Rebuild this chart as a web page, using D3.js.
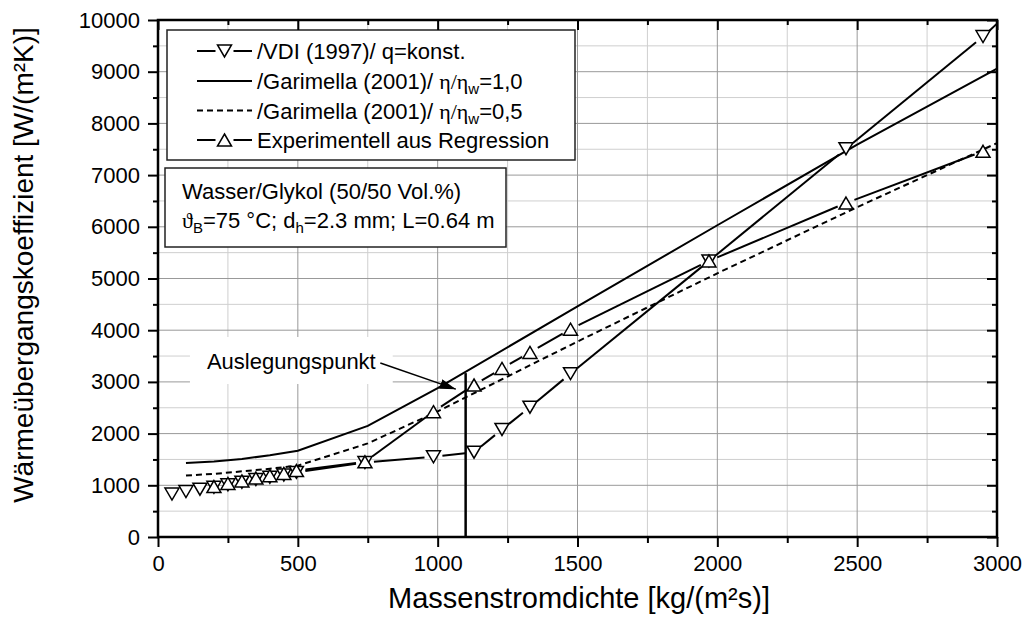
<!DOCTYPE html>
<html>
<head>
<meta charset="utf-8">
<script src="https://cdn.jsdelivr.net/npm/d3@7"></script>
<style>
  body { margin: 0; background: #fff; }
  text { font-family: "Liberation Sans", Arial, Helvetica, sans-serif; fill: #000; }
  .greek { font-family: "Liberation Serif", "Times New Roman", serif; }
</style>
</head>
<body>
<svg id="chart" width="1022" height="621"></svg>
<script>
// Wärmeübergangskoeffizient über Massenstromdichte, Wasser/Glykol 50/50

// /VDI (1997)/ q=konst.  (Dreieck nach unten)
const vdiX = [50, 100, 150, 200, 250, 300, 350, 400, 450, 495, 740, 985, 1130, 1230, 1330, 1475, 1970, 2460, 2950];
const vdiY = [830, 880, 925, 960, 1010, 1060, 1110, 1155, 1200, 1250, 1440, 1550, 1640, 2080, 2510, 3160, 5340, 7510, 9680];
// Linienende am Diagrammrand
const vdiEnd = [3000, 9930];

// Experimentell aus Regression (Dreieck nach oben)
const expX = [200, 250, 300, 350, 400, 450, 495, 740, 985, 1130, 1230, 1330, 1475, 1970, 2460, 2950];
const expY = [975, 1035, 1085, 1140, 1185, 1230, 1285, 1455, 2425, 2940, 3260, 3570, 4020, 5340, 6460, 7460];

// /Garimella (2001)/ eta/eta_w = 1,0
const gar10X = [100, 200, 300, 400, 500, 750, 1000, 1500, 2000, 2500, 3000];
const gar10Y = [1430, 1460, 1510, 1580, 1670, 2150, 2880, 4460, 6030, 7590, 9060];

// /Garimella (2001)/ eta/eta_w = 0,5
const gar05X = [100, 200, 300, 400, 500, 750, 1000, 1500, 2000, 2500, 3000];
const gar05Y = [1190, 1220, 1270, 1320, 1380, 1810, 2430, 3780, 5100, 6380, 7620];

// Auslegungspunkt
const designX = 1100;
const designY = 3170;
const arrowFrom = [795, 3365];
const arrowTo = [1065, 2860];

// Achsen
const xMajor = [0, 500, 1000, 1500, 2000, 2500, 3000];
const xMinor = [250, 750, 1250, 1750, 2250, 2750];
const yMajor = [0, 1000, 2000, 3000, 4000, 5000, 6000, 7000, 8000, 9000, 10000];
const yMinor = [500, 1500, 2500, 3500, 4500, 5500, 6500, 7500, 8500, 9500];

const svg = d3.select("#chart");
const L = 158, R = 997, T = 20, B = 537;
const x = d3.scaleLinear().domain([0, 3000]).range([L, R]);
const y = d3.scaleLinear().domain([0, 10000]).range([B, T]);

// Gitter
const grid = svg.append("g");
grid.selectAll(".gxm").data(xMinor).join("line")
  .attr("x1", d => x(d)).attr("x2", d => x(d)).attr("y1", T).attr("y2", B)
  .attr("stroke", "#cfcfcf").attr("stroke-width", 1);
grid.selectAll(".gym").data(yMinor).join("line")
  .attr("y1", d => y(d)).attr("y2", d => y(d)).attr("x1", L).attr("x2", R)
  .attr("stroke", "#cfcfcf").attr("stroke-width", 1);
grid.selectAll(".gxM").data(xMajor).join("line")
  .attr("x1", d => x(d)).attr("x2", d => x(d)).attr("y1", T).attr("y2", B)
  .attr("stroke", "#999").attr("stroke-width", 1);
grid.selectAll(".gyM").data(yMajor).join("line")
  .attr("y1", d => y(d)).attr("y2", d => y(d)).attr("x1", L).attr("x2", R)
  .attr("stroke", "#999").attr("stroke-width", 1);

// Symbole
function triPath(cx, cy, down) {
  const w = 7, h = 6;
  return down
    ? `M${cx - w},${cy - h}L${cx + w},${cy - h}L${cx},${cy + h}Z`
    : `M${cx},${cy - h}L${cx + w},${cy + h}L${cx - w},${cy + h}Z`;
}

// Linie mit Lücken an den Symbolen
function gappedLine(g, pts, gap, dash) {
  for (let i = 0; i < pts.length - 1; i++) {
    const [x0, y0, m0] = pts[i], [x1, y1, m1] = pts[i + 1];
    const dx = x1 - x0, dy = y1 - y0, len = Math.hypot(dx, dy);
    const g0 = m0 ? gap : 0, g1 = m1 ? gap : 0;
    if (len <= g0 + g1 + 1) continue;
    const ux = dx / len, uy = dy / len;
    g.append("line")
      .attr("x1", x0 + ux * g0).attr("y1", y0 + uy * g0)
      .attr("x2", x1 - ux * g1).attr("y2", y1 - uy * g1)
      .attr("stroke", "#000").attr("stroke-width", 2)
      .attr("stroke-dasharray", dash || null);
  }
}

// Auslegungspunkt-Beschriftung (weißer Hintergrund)
const annot = svg.append("g");
const annRect = annot.append("rect").attr("fill", "#fff");
const annText = annot.append("text")
  .attr("x", x(175)).attr("y", y(3250))
  .attr("font-size", 22).text("Auslegungspunkt");
const bb = annText.node().getBBox();
annRect.attr("x", bb.x - 17).attr("y", bb.y - 12)
  .attr("width", bb.width + 34).attr("height", bb.height + 22);

// Kurven
const lines = svg.append("g");
const lineGen = d3.line().x(d => x(d[0])).y(d => y(d[1]));
lines.append("path").datum(d3.zip(gar10X, gar10Y)).attr("d", lineGen)
  .attr("fill", "none").attr("stroke", "#000").attr("stroke-width", 2);
lines.append("path").datum(d3.zip(gar05X, gar05Y)).attr("d", lineGen)
  .attr("fill", "none").attr("stroke", "#000").attr("stroke-width", 2)
  .attr("stroke-dasharray", "6,4");

const vdiPts = vdiX.map((v, i) => [x(v), y(vdiY[i]), true]).concat([[x(vdiEnd[0]), y(vdiEnd[1]), false]]);
gappedLine(lines, vdiPts, 9);
const expPts = expX.map((v, i) => [x(v), y(expY[i]), true]);
gappedLine(lines, expPts, 9);

// Senkrechte am Auslegungspunkt
svg.append("line")
  .attr("x1", x(designX)).attr("x2", x(designX))
  .attr("y1", y(0)).attr("y2", y(designY))
  .attr("stroke", "#000").attr("stroke-width", 2.5);

// Pfeil
svg.append("defs").append("marker")
  .attr("id", "arrowhead").attr("viewBox", "0 0 16 10")
  .attr("refX", 16).attr("refY", 5)
  .attr("markerWidth", 16).attr("markerHeight", 10)
  .attr("markerUnits", "userSpaceOnUse").attr("orient", "auto")
  .append("path").attr("d", "M0,0L16,5L0,10Z").attr("fill", "#000");
svg.append("line")
  .attr("x1", x(arrowFrom[0])).attr("y1", y(arrowFrom[1]))
  .attr("x2", x(arrowTo[0])).attr("y2", y(arrowTo[1]))
  .attr("stroke", "#000").attr("stroke-width", 1.5)
  .attr("marker-end", "url(#arrowhead)");

// Symbole zeichnen
const marks = svg.append("g");
marks.selectAll(".vdi").data(d3.zip(vdiX, vdiY)).join("path")
  .attr("d", d => triPath(x(d[0]), y(d[1]), true))
  .attr("fill", "#fff").attr("stroke", "#000").attr("stroke-width", 1.5);
marks.selectAll(".exp").data(d3.zip(expX, expY)).join("path")
  .attr("d", d => triPath(x(d[0]), y(d[1]), false))
  .attr("fill", "#fff").attr("stroke", "#000").attr("stroke-width", 1.5);

// Legende
const leg = svg.append("g");
leg.append("rect").attr("x", 167).attr("y", 30).attr("width", 408).attr("height", 130)
  .attr("fill", "#fff").attr("stroke", "#222").attr("stroke-width", 1.5);
const rowsY = [59, 89, 118.5, 148];
const lx0 = 197, lx1 = 252, lxm = 224.5, tx = 257;
// Zeile 1: VDI
leg.append("line").attr("x1", lx0).attr("x2", lxm - 9).attr("y1", rowsY[0] - 8).attr("y2", rowsY[0] - 8).attr("stroke", "#000").attr("stroke-width", 2);
leg.append("line").attr("x1", lxm + 9).attr("x2", lx1).attr("y1", rowsY[0] - 8).attr("y2", rowsY[0] - 8).attr("stroke", "#000").attr("stroke-width", 2);
leg.append("path").attr("d", triPath(lxm, rowsY[0] - 8, true)).attr("fill", "#fff").attr("stroke", "#000").attr("stroke-width", 1.5);
leg.append("text").attr("x", tx).attr("y", rowsY[0]).attr("font-size", 22).text("/VDI (1997)/ q=konst.");
// Zeile 2: Garimella 1,0
leg.append("line").attr("x1", lx0).attr("x2", lx1).attr("y1", rowsY[1] - 8).attr("y2", rowsY[1] - 8).attr("stroke", "#000").attr("stroke-width", 2);
const t2 = leg.append("text").attr("x", tx).attr("y", rowsY[1]).attr("font-size", 22);
t2.append("tspan").text("/Garimella (2001)/ ");
t2.append("tspan").attr("class", "greek").text("η/η");
t2.append("tspan").attr("font-size", 15).attr("dy", 5).text("w");
t2.append("tspan").attr("dy", -5).text("=1,0");
// Zeile 3: Garimella 0,5
leg.append("line").attr("x1", lx0).attr("x2", lx1).attr("y1", rowsY[2] - 8).attr("y2", rowsY[2] - 8).attr("stroke", "#000").attr("stroke-width", 2).attr("stroke-dasharray", "6,4");
const t3 = leg.append("text").attr("x", tx).attr("y", rowsY[2]).attr("font-size", 22);
t3.append("tspan").text("/Garimella (2001)/ ");
t3.append("tspan").attr("class", "greek").text("η/η");
t3.append("tspan").attr("font-size", 15).attr("dy", 5).text("w");
t3.append("tspan").attr("dy", -5).text("=0,5");
// Zeile 4: Experiment
leg.append("line").attr("x1", lx0).attr("x2", lxm - 9).attr("y1", rowsY[3] - 8).attr("y2", rowsY[3] - 8).attr("stroke", "#000").attr("stroke-width", 2);
leg.append("line").attr("x1", lxm + 9).attr("x2", lx1).attr("y1", rowsY[3] - 8).attr("y2", rowsY[3] - 8).attr("stroke", "#000").attr("stroke-width", 2);
leg.append("path").attr("d", triPath(lxm, rowsY[3] - 8, false)).attr("fill", "#fff").attr("stroke", "#000").attr("stroke-width", 1.5);
leg.append("text").attr("x", tx).attr("y", rowsY[3]).attr("font-size", 22).text("Experimentell aus Regression");

// Stoffdaten-Box
const info = svg.append("g");
info.append("rect").attr("x", 165).attr("y", 168).attr("width", 341).attr("height", 79)
  .attr("fill", "#fff").attr("stroke", "#222").attr("stroke-width", 1.5);
info.append("text").attr("x", 182).attr("y", 199).attr("font-size", 22).text("Wasser/Glykol (50/50 Vol.%)");
const t5 = info.append("text").attr("x", 182).attr("y", 228).attr("font-size", 22);
t5.append("tspan").attr("class", "greek").text("ϑ");
t5.append("tspan").attr("font-size", 15).attr("dy", 5).text("B");
t5.append("tspan").attr("dy", -5).text("=75 °C; d");
t5.append("tspan").attr("font-size", 15).attr("dy", 5).text("h");
t5.append("tspan").attr("dy", -5).text("=2.3 mm; L=0.64 m");

// Achsen mit Teilstrichen
function styleAxis(g) {
  g.select(".domain").remove();
  g.selectAll(".tick line").attr("stroke", "#000").attr("stroke-width", 2);
  g.selectAll(".tick text").attr("font-size", 22)
    .attr("font-family", '"Liberation Sans", Arial, sans-serif').attr("fill", "#000");
}
svg.append("g").attr("transform", `translate(0,${B})`)
  .call(d3.axisBottom(x).tickValues(xMajor).tickSize(10).tickPadding(8).tickFormat(d3.format("d")))
  .call(styleAxis);
svg.append("g").attr("transform", `translate(0,${B})`)
  .call(d3.axisBottom(x).tickValues(xMinor).tickSize(6).tickFormat(""))
  .call(styleAxis);
svg.append("g").attr("transform", `translate(${L},0)`)
  .call(d3.axisLeft(y).tickValues(yMajor).tickSize(10).tickPadding(8).tickFormat(d3.format("d")))
  .call(styleAxis);
svg.append("g").attr("transform", `translate(${L},0)`)
  .call(d3.axisLeft(y).tickValues(yMinor).tickSize(5).tickFormat(""))
  .call(styleAxis);
svg.append("g").attr("transform", `translate(0,${T})`)
  .call(d3.axisBottom(x).tickValues(xMajor).tickSize(10).tickFormat(""))
  .call(styleAxis);
svg.append("g").attr("transform", `translate(0,${T})`)
  .call(d3.axisBottom(x).tickValues(xMinor).tickSize(5).tickFormat(""))
  .call(styleAxis);
svg.append("g").attr("transform", `translate(${R},0)`)
  .call(d3.axisLeft(y).tickValues(yMajor).tickSize(10).tickFormat(""))
  .call(styleAxis);
svg.append("g").attr("transform", `translate(${R},0)`)
  .call(d3.axisLeft(y).tickValues(yMinor).tickSize(5).tickFormat(""))
  .call(styleAxis);

// Rahmen
svg.append("rect").attr("x", L).attr("y", T).attr("width", R - L).attr("height", B - T)
  .attr("fill", "none").attr("stroke", "#000").attr("stroke-width", 2.5);

// Achsentitel
svg.append("text").attr("x", 579).attr("y", 608).attr("text-anchor", "middle")
  .attr("font-size", 29).text("Massenstromdichte [kg/(m²s)]");
svg.append("text").attr("transform", "translate(33,265) rotate(-90)").attr("text-anchor", "middle")
  .attr("font-size", 28).text("Wärmeübergangskoeffizient [W/(m²K)]");
</script>
</body>
</html>
